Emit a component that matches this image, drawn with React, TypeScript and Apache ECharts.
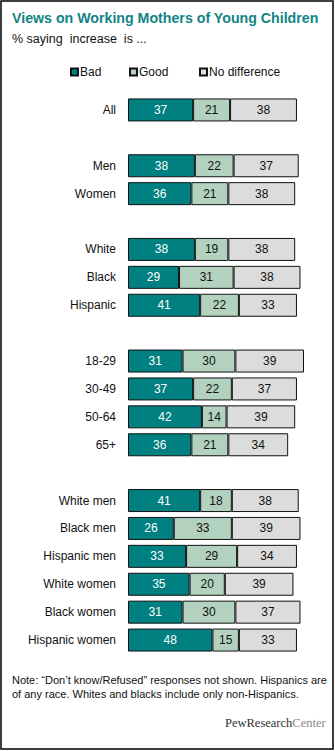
import React, { useEffect, useRef } from "react";
import * as echarts from "echarts";

const categories = [
  "All", " ", "Men", "Women", "  ", "White", "Black", "Hispanic", "   ",
  "18-29", "30-49", "50-64", "65+", "    ",
  "White men", "Black men", "Hispanic men", "White women", "Black women", "Hispanic women",
];
const bad = [37, null, 38, 36, null, 38, 29, 41, null, 31, 37, 42, 36, null, 41, 26, 33, 35, 31, 48];
const good = [21, null, 22, 21, null, 19, 31, 22, null, 30, 22, 14, 21, null, 18, 33, 29, 20, 30, 15];
const noDiff = [38, null, 37, 38, null, 38, 38, 33, null, 39, 37, 39, 34, null, 38, 39, 34, 39, 37, 33];
const seriesNames = ["Bad", "Good", "No difference"];
const legendLefts = [70, 129, 199];

const FONT = "'Liberation Sans', Arial, sans-serif";

export default function App() {
  const ref = useRef<HTMLDivElement>(null);
  useEffect(() => {
    if (!ref.current) return;
    const chart = echarts.init(ref.current, null, { renderer: "svg" });
    const mk = (name: string, data: (number | null)[], color: string, labelColor: string) => ({
      name,
      type: "bar",
      stack: "total",
      data,
      barWidth: 23,
      itemStyle: { color, borderColor: "#111", borderWidth: 1 },
      label: {
        show: true,
        position: "inside",
        color: labelColor,
        fontSize: 12,
        fontFamily: FONT,
      },
    });
    chart.setOption({
      animation: false,
      backgroundColor: "#fff",
      textStyle: { fontFamily: FONT },
      grid: { left: 128, width: 176, top: 96, height: 558, containLabel: false },
      legend: seriesNames.map((n, i) => ({
        left: legendLefts[i],
        top: 66,
        padding: 0,
        itemWidth: 7,
        itemHeight: 7,
        icon: "rect",
        data: [n],
        textStyle: { fontSize: 12, color: "#111", fontFamily: FONT, padding: [0, 0, 0, -3] },
      })),
      xAxis: {
        type: "value",
        min: 0,
        max: 100,
        show: false,
      },
      yAxis: {
        type: "category",
        inverse: true,
        data: categories,
        axisLine: { show: false },
        axisTick: { show: false },
        axisLabel: { margin: 12, fontSize: 12, color: "#111", fontFamily: FONT },
      },
      series: [
        mk(seriesNames[0], bad, "#008080", "#fff"),
        mk(seriesNames[1], good, "#b3d1bf", "#111"),
        mk(seriesNames[2], noDiff, "#dcdcdc", "#111"),
      ],
      graphic: [
        {
          type: "rect",
          shape: { x: 1, y: 1, width: 332, height: 748 },
          style: { fill: "none", stroke: "#000", lineWidth: 1.5 },
          silent: true,
        },
        {
          type: "text",
          left: 12,
          top: 11,
          style: {
            text: "Views on Working Mothers of Young Children",
            fontSize: 14.2,
            fontWeight: "bold",
            fill: "#118585",
            fontFamily: FONT,
          },
        },
        {
          type: "text",
          left: 12,
          top: 32,
          style: { text: "% saying  increase  is ...", fontSize: 12.5, fill: "#111", fontFamily: FONT },
        },
        {
          type: "text",
          left: 12,
          top: 673,
          style: {
            text:
              "Note: \u201cDon\u2019t know/Refused\u201d responses not shown. Hispanics are\nof any race. Whites and blacks include only non-Hispanics.",
            fontSize: 11,
            lineHeight: 14,
            fill: "#111",
            fontFamily: FONT,
          },
        },
        {
          type: "text",
          left: 225,
          top: 716,
          style: {
            text: "{a|PewResearch}{b|Center}",
            rich: {
              a: { fontSize: 12.5, fill: "#333", fontFamily: "'Liberation Serif', serif" },
              b: { fontSize: 12.5, fill: "#888", fontFamily: "'Liberation Serif', serif" },
            },
          },
        },
      ],
    });
    return () => chart.dispose();
  }, []);
  return (
    <div
      ref={ref}
      style={{ position: "absolute", left: 0, top: 0, width: 335, height: 751 }}
    />
  );
}
